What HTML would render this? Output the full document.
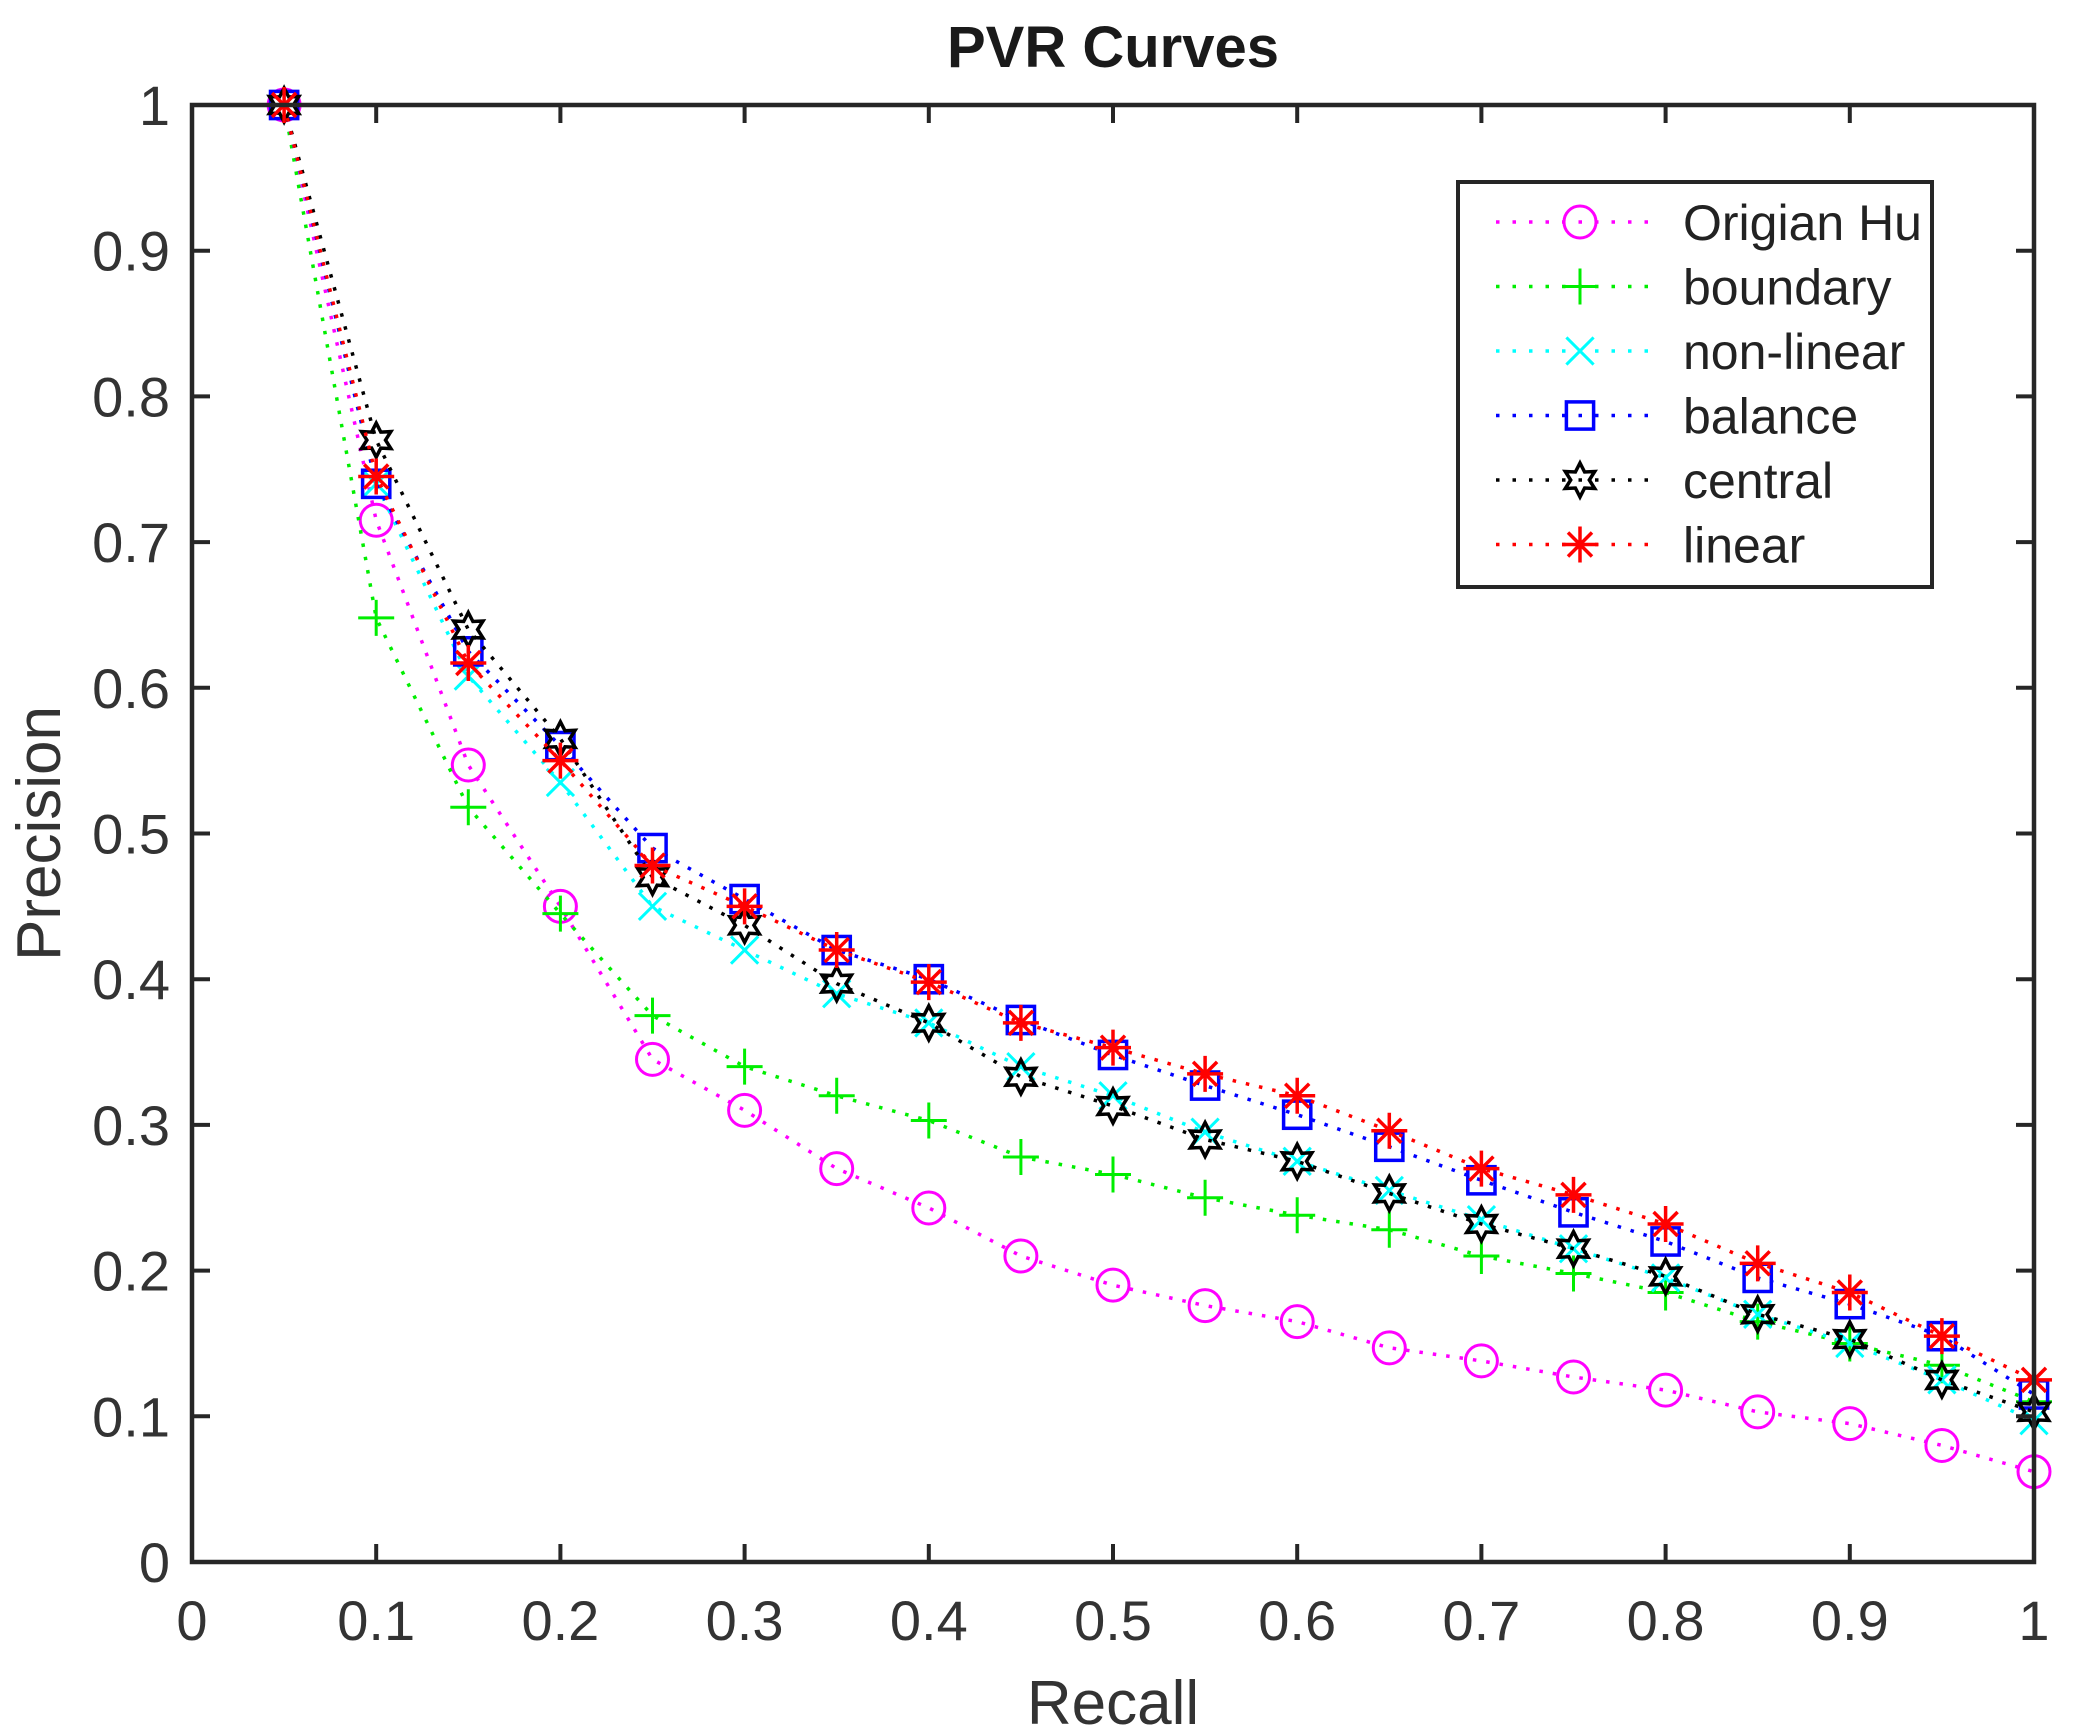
<!DOCTYPE html>
<html><head><meta charset="utf-8"><style>
html,body{margin:0;padding:0;background:#fff;}
svg{display:block;font-family:"Liberation Sans",Arial,sans-serif;}
</style></head><body>
<svg id="chart" width="2075" height="1733" viewBox="0 0 2075 1733" xmlns="http://www.w3.org/2000/svg">
<rect width="2075" height="1733" fill="#fff"/>
<g id="series"></g>
<g id="axes"></g>
<g id="legend"></g>
</svg>
<script>
const recall = [0.05,0.1,0.15,0.2,0.25,0.3,0.35,0.4,0.45,0.5,0.55,0.6,0.65,0.7,0.75,0.8,0.85,0.9,0.95,1];
const origianHu = [1,0.715,0.547,0.45,0.345,0.31,0.27,0.243,0.21,0.19,0.176,0.165,0.147,0.138,0.127,0.118,0.103,0.095,0.08,0.062];
const boundary = [1,0.648,0.518,0.445,0.375,0.34,0.32,0.303,0.278,0.266,0.25,0.238,0.228,0.21,0.198,0.185,0.165,0.15,0.135,0.11];
const nonLinear = [1,0.74,0.608,0.535,0.45,0.42,0.39,0.37,0.34,0.32,0.295,0.275,0.255,0.235,0.215,0.195,0.17,0.15,0.125,0.097];
const balance = [1,0.74,0.625,0.56,0.49,0.455,0.42,0.40,0.372,0.348,0.327,0.307,0.285,0.262,0.24,0.22,0.195,0.177,0.155,0.115];
const central = [1,0.77,0.64,0.565,0.47,0.437,0.397,0.37,0.333,0.313,0.29,0.275,0.253,0.232,0.215,0.196,0.17,0.153,0.125,0.103];
const linear = [1,0.745,0.617,0.55,0.478,0.45,0.42,0.398,0.37,0.353,0.335,0.32,0.296,0.27,0.252,0.232,0.205,0.185,0.155,0.125];
const seriesNames = ["Origian Hu","boundary","non-linear","balance","central","linear"];
const xTicks = [0,0.1,0.2,0.3,0.4,0.5,0.6,0.7,0.8,0.9,1];
const xTickLabels = ["0","0.1","0.2","0.3","0.4","0.5","0.6","0.7","0.8","0.9","1"];
const yTicks = [0,0.1,0.2,0.3,0.4,0.5,0.6,0.7,0.8,0.9,1];
const yTickLabels = ["0","0.1","0.2","0.3","0.4","0.5","0.6","0.7","0.8","0.9","1"];

const NS = "http://www.w3.org/2000/svg";
const L = 192, R = 2034, T = 105, B = 1562;
function sx(v){ return L + v * (R - L); }
function sy(v){ return B - v * (B - T); }
function mk(tag, attrs, parent){
  const e = document.createElementNS(NS, tag);
  for (const k in attrs) e.setAttribute(k, attrs[k]);
  parent.appendChild(e);
  return e;
}
const colors = ["#ff00ff","#00ee00","#00ffff","#0000ff","#000000","#ff0000"];
const markers = ["circle","plus","x","square","hexagram","star"];
const allSeries = [origianHu, boundary, nonLinear, balance, central, linear];

function drawMarker(type, x, y, color, g){
  const s = 16;
  if (type === "circle"){
    mk("circle",{cx:x,cy:y,r:s,fill:"none",stroke:color,"stroke-width":3},g);
  } else if (type === "plus"){
    mk("path",{d:`M${x-s-2},${y}H${x+s+2}M${x},${y-s-2}V${y+s+2}`,stroke:color,"stroke-width":3,fill:"none"},g);
  } else if (type === "x"){
    const d = s*0.85;
    mk("path",{d:`M${x-d},${y-d}L${x+d},${y+d}M${x-d},${y+d}L${x+d},${y-d}`,stroke:color,"stroke-width":3,fill:"none"},g);
  } else if (type === "square"){
    const d = s*0.85;
    mk("rect",{x:x-d,y:y-d,width:2*d,height:2*d,fill:"none",stroke:color,"stroke-width":3.5},g);
  } else if (type === "hexagram"){
    let pts = [];
    for (let i=0;i<12;i++){
      const a = -Math.PI/2 + i*Math.PI/6;
      const r = (i%2===0) ? s+1 : s*0.58;
      pts.push((x+r*Math.cos(a)).toFixed(1)+","+(y+r*Math.sin(a)).toFixed(1));
    }
    mk("polygon",{points:pts.join(" "),fill:"none",stroke:color,"stroke-width":3.5},g);
  } else if (type === "star"){
    let d = `M${x-s-2},${y}H${x+s+2}M${x},${y-s-2}V${y+s+2}`;
    const k = s*0.75;
    d += `M${x-k},${y-k}L${x+k},${y+k}M${x-k},${y+k}L${x+k},${y-k}`;
    mk("path",{d:d,stroke:color,"stroke-width":3.5,fill:"none"},g);
  }
}

const gS = document.getElementById("series");
allSeries.forEach((vals, si) => {
  const g = mk("g",{},gS);
  
  
  const pts = recall.map((r,i)=> sx(r).toFixed(1)+","+sy(vals[i]).toFixed(1)).join(" ");
  const pl = mk("polyline",{points:pts,fill:"none",stroke:colors[si],"stroke-width":3.5,"stroke-dasharray":"3.5 10"},g);
  
  
  recall.forEach((r,i)=>{
    drawMarker(markers[si], sx(r), sy(vals[i]), colors[si], g);
  });
});

const gA = document.getElementById("axes");
const frame = mk("rect",{x:L,y:T,width:R-L,height:B-T,fill:"none",stroke:"#262626","stroke-width":4.5},gA);


xTicks.forEach((v,i)=>{
  const x = sx(v);
  mk("path",{d:`M${x},${B}V${B-18}M${x},${T}V${T+18}`,stroke:"#262626","stroke-width":4},gA);
  const t = mk("text",{x:x,y:1640,"text-anchor":"middle","font-size":56,fill:"#333"},gA);
  t.textContent = xTickLabels[i];
  
  
});
yTicks.forEach((v,i)=>{
  const y = sy(v);
  mk("path",{d:`M${L},${y}H${L+18}M${R},${y}H${R-18}`,stroke:"#262626","stroke-width":4},gA);
  const t = mk("text",{x:170,y:y+20,"text-anchor":"end","font-size":56,fill:"#333"},gA);
  t.textContent = yTickLabels[i];
  
  
});
const title = mk("text",{x:(L+R)/2,y:67,"text-anchor":"middle","font-size":58,"font-weight":"bold",fill:"#1a1a1a"},gA);
title.textContent = "PVR Curves";


const xl = mk("text",{x:(L+R)/2,y:1724,"text-anchor":"middle","font-size":62,fill:"#333"},gA);
xl.textContent = "Recall";


const yl = mk("text",{x:0,y:0,"text-anchor":"middle","font-size":62,fill:"#333",transform:`translate(60,${(T+B)/2}) rotate(-90)`},gA);
yl.textContent = "Precision";



const gL = document.getElementById("legend");


mk("rect",{x:1458,y:182,width:474,height:405,fill:"#fff",stroke:"#262626","stroke-width":4},gL);
seriesNames.forEach((name, si)=>{
  const y = 222 + si*64.5;
  const g = mk("g",{},gL);
  
  
  mk("path",{d:`M1496,${y}H1650`,stroke:colors[si],"stroke-width":3.5,"stroke-dasharray":"3.5 13",fill:"none"},g);
  drawMarker(markers[si], 1580, y, colors[si], g);
  const t = mk("text",{x:1683,y:y+18,"font-size":50,fill:"#222"},g);
  t.textContent = name;
});
</script>
</body></html>
